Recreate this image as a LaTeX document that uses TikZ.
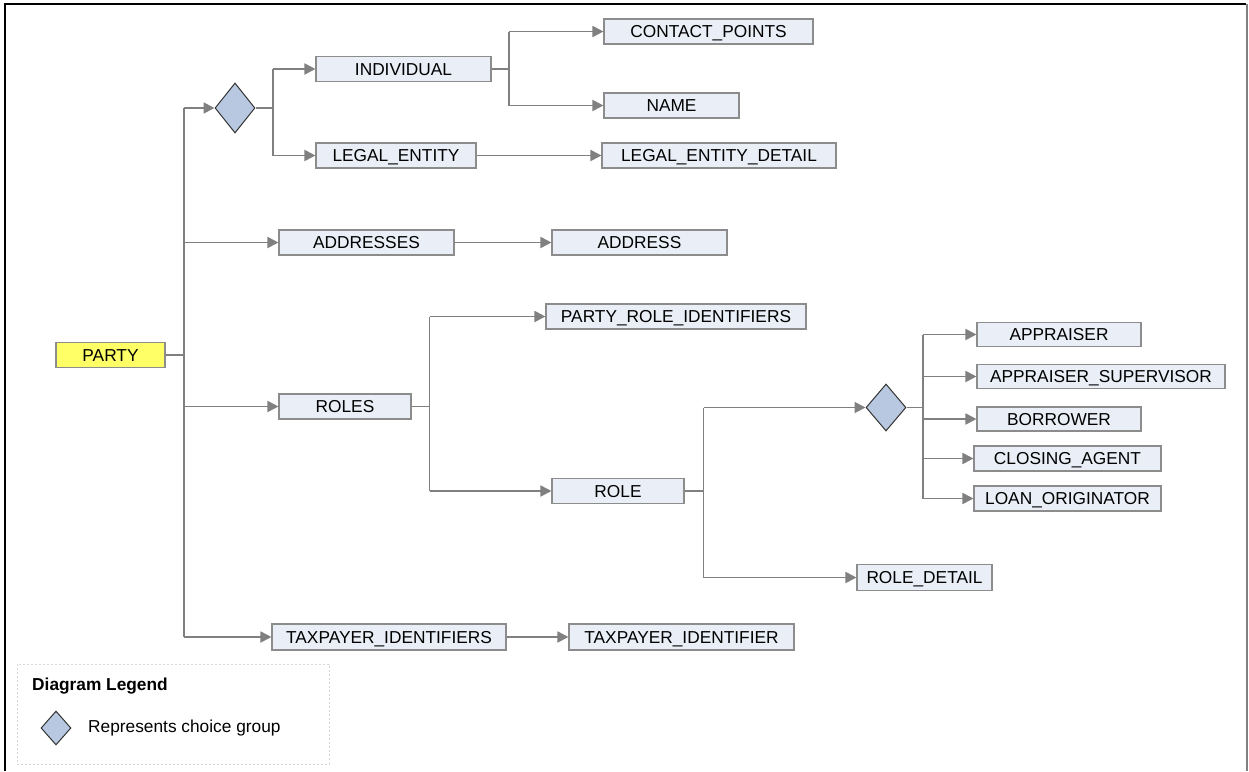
\documentclass[tikz,border=0pt]{standalone}
\usepackage{fontspec}
\setmainfont{Liberation Sans}
\usetikzlibrary{arrows.meta,shapes.geometric}
\definecolor{boxfill}{RGB}{234,239,247}
\definecolor{boxline}{RGB}{140,140,140}
\definecolor{connline}{RGB}{128,128,128}
\definecolor{partyfill}{RGB}{255,255,102}
\definecolor{choicefill}{RGB}{184,200,224}
\definecolor{choiceline}{RGB}{51,51,51}
\definecolor{legline}{RGB}{215,215,215}
\tikzset{
  elem/.style={draw=boxline, fill=boxfill, line width=1.1pt, inner sep=0pt,
    minimum height=25pt, text height=12.4pt, text depth=0pt,
    font=\fontsize{17.3}{20}\selectfont},
  rootelem/.style={elem, fill=partyfill},
  choice/.style={diamond, draw=choiceline, fill=choicefill, line width=1pt,
    inner sep=0pt, minimum width=40pt, minimum height=50pt},
  conn/.style={draw=connline, line width=1.8pt},
  arr/.style={conn, -{Triangle[length=11pt,width=11pt,fill=connline]}},
}
\begin{document}
\begin{tikzpicture}[x=1pt,y=-1pt]
\useasboundingbox (0,0) rectangle (1249,771);
% frame
\draw[black, line width=1.2pt] (5,771) -- (5,4) -- (1246,4);
\draw[connline, line width=2.2pt] (1247,4) -- (1247,771);

% nodes
\node[rootelem, minimum width=109pt] (party) at (110.5,355) {PARTY};
\node[choice] (d1) at (235,108) {};
\node[elem, minimum width=175pt] (individual) at (403.5,69) {INDIVIDUAL};
\node[elem, minimum width=160pt] (legal) at (396,155.5) {LEGAL\_ENTITY};
\node[elem, minimum width=209pt] (contact) at (708.5,31.5) {CONTACT\_POINTS};
\node[elem, minimum width=135pt] (name) at (671.5,105.5) {NAME};
\node[elem, minimum width=234pt] (led) at (719,155.5) {LEGAL\_ENTITY\_DETAIL};
\node[elem, minimum width=175pt] (addresses) at (366.5,242.5) {ADDRESSES};
\node[elem, minimum width=175pt] (address) at (639.5,242.5) {ADDRESS};
\node[elem, minimum width=260pt] (pri) at (676,316.5) {PARTY\_ROLE\_IDENTIFIERS};
\node[elem, minimum width=132pt] (roles) at (345,406.5) {ROLES};
\node[elem, minimum width=132pt] (role) at (618,491) {ROLE};
\node[choice, minimum height=47pt] (d2) at (886,407.5) {};
\node[elem, minimum width=164pt, minimum height=24pt] (appraiser) at (1059,334.5) {APPRAISER};
\node[elem, minimum width=248pt, minimum height=24pt] (aps) at (1101,376.5) {APPRAISER\_SUPERVISOR};
\node[elem, minimum width=164pt, minimum height=24pt] (borrower) at (1059,419) {BORROWER};
\node[elem, minimum width=187pt] (closing) at (1067.5,458.5) {CLOSING\_AGENT};
\node[elem, minimum width=187pt] (loan) at (1067.5,498.5) {LOAN\_ORIGINATOR};
\node[elem, minimum width=135pt, minimum height=26pt] (roledetail) at (924.5,577.5) {ROLE\_DETAIL};
\node[elem, minimum width=234pt, minimum height=26pt] (tpis) at (389,637) {TAXPAYER\_IDENTIFIERS};
\node[elem, minimum width=225pt, minimum height=26pt] (tpi) at (681.5,637) {TAXPAYER\_IDENTIFIER};

% branch points
\coordinate (t) at (184,0);
\coordinate (b1) at (273,0);
\coordinate (b2) at (509,0);
\coordinate (b3) at (429.5,0);
\coordinate (b4) at (703.5,0);
\coordinate (b5) at (923,0);

% PARTY trunk
\draw[conn] (party.east) -- (t |- party);
\draw[conn] (t |- d1) -- (t |- tpis);
\draw[arr] (t |- d1) -- (d1.west);
\draw[arr] (t |- addresses) -- (addresses.west);
\draw[arr] (t |- roles) -- (roles.west);
\draw[arr] (t |- tpis) -- (tpis.west);

% choice 1
\draw[conn] (d1.east) -- (b1 |- d1);
\draw[conn] (b1 |- individual) -- (b1 |- legal);
\draw[arr] (b1 |- individual) -- (individual.west);
\draw[arr] (b1 |- legal) -- (legal.west);

% individual
\draw[conn] (individual.east) -- (b2 |- individual);
\draw[conn] (b2 |- contact) -- (b2 |- name);
\draw[arr] (b2 |- contact) -- (contact.west);
\draw[arr] (b2 |- name) -- (name.west);

% simple chains
\draw[arr] (legal.east) -- (led.west);
\draw[arr] (addresses.east) -- (address.west);
\draw[arr] (tpis.east) -- (tpi.west);

% roles
\draw[conn] (roles.east) -- (b3 |- roles);
\draw[conn] (b3 |- pri) -- (b3 |- role);
\draw[arr] (b3 |- pri) -- (pri.west);
\draw[arr] (b3 |- role) -- (role.west);

% role
\draw[conn] (role.east) -- (b4 |- role);
\draw[conn] (b4 |- d2) -- (b4 |- roledetail);
\draw[arr] (b4 |- d2) -- (d2.west);
\draw[arr] (b4 |- roledetail) -- (roledetail.west);

% choice 2
\draw[conn] (d2.east) -- (b5 |- d2);
\draw[conn] (b5 |- appraiser) -- (b5 |- loan);
\draw[arr] (b5 |- appraiser) -- (appraiser.west);
\draw[arr] (b5 |- aps) -- (aps.west);
\draw[arr] (b5 |- borrower) -- (borrower.west);
\draw[arr] (b5 |- closing) -- (closing.west);
\draw[arr] (b5 |- loan) -- (loan.west);

% legend
\node[draw=legline, dash pattern=on 2pt off 2pt, line width=0.8pt, minimum width=312pt, minimum height=100pt, inner sep=0pt] (legend) at (173,714) {};
\node[anchor=west, inner sep=0pt, font=\fontsize{17.3}{20}\selectfont\bfseries] (legtitle) at (32,686) {Diagram Legend};
\node[choice, minimum width=30pt, minimum height=34pt] (legdiamond) at (56,728) {};
\node[anchor=west, inner sep=0pt, font=\fontsize{17.3}{20}\selectfont] (legtext) at (88,728) {Represents choice group};
\end{tikzpicture}
\end{document}
